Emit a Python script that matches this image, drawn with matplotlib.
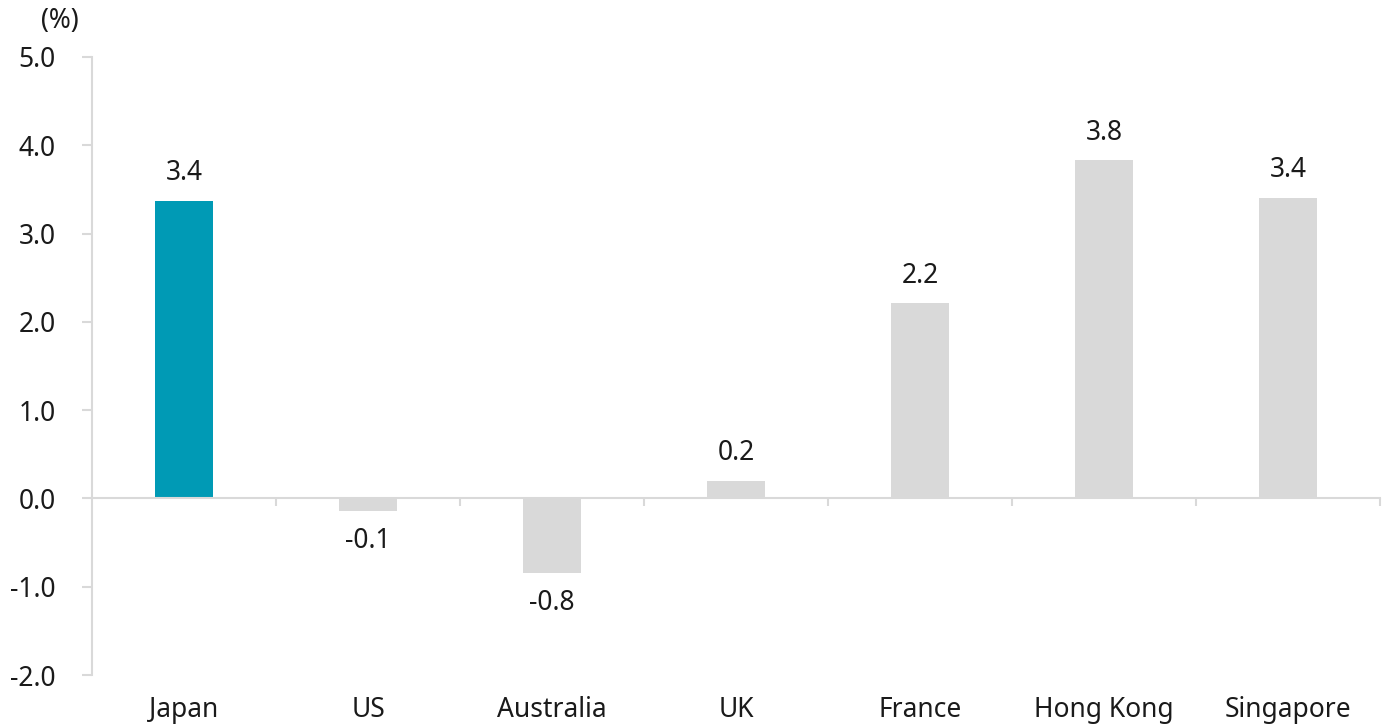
import numpy as np
import matplotlib.pyplot as plt

countries = ['Japan', 'US', 'Australia', 'UK', 'France', 'Hong Kong', 'Singapore']
values = [3.37, -0.14, -0.84, 0.2, 2.21, 3.83, 3.40]
bar_colors = ['#009ab5'] + ['#d9d9d9'] * 6

plt.rcParams['font.family'] = ['Noto Sans', 'DejaVu Sans']
txt = '#1a1a1a'
grid = '#d9d9d9'
fs = 19

fig = plt.figure(figsize=(13.86, 7.26), dpi=100)
ax = fig.add_axes([0.0664, 0.0702, 0.9293, 0.8513])

x = np.arange(len(countries))
ax.bar(x, values, width=0.315, color=bar_colors, zorder=2)

for xi, v in zip(x, values):
    off = 20 if v >= 0 else -22
    ax.annotate(f'{v:.1f}', (xi, v), xytext=(0, off), textcoords='offset points',
                ha='center', va='center', fontsize=fs, color=txt)

ax.set_xlim(-0.5, len(countries) - 0.5)
ax.set_ylim(-2, 5)
ax.set_yticks(np.arange(-2, 6, 1.0))
ax.set_yticklabels([f'{t:.1f}' for t in np.arange(-2, 6, 1.0)])
ax.tick_params(axis='y', direction='out', length=7, width=1.5, color=grid,
               labelsize=fs, labelcolor=txt, pad=19)

for s in ['top', 'right']:
    ax.spines[s].set_visible(False)
ax.spines['left'].set_color(grid)
ax.spines['left'].set_linewidth(1.5)
ax.spines['bottom'].set_position(('data', 0))
ax.spines['bottom'].set_color(grid)
ax.spines['bottom'].set_linewidth(1.5)

# boundary ticks on the zero line
ax.set_xticks(x)
ax.set_xticklabels([])
ax.tick_params(axis='x', which='major', length=0)
ax.set_xticks(np.arange(0.5, len(countries) + 0.5, 1), minor=True)
ax.tick_params(axis='x', which='minor', direction='out', length=6, width=1.5, color=grid)

# category labels at the bottom of the plot
sec = ax.secondary_xaxis('bottom')
sec.set_xticks(x)
sec.set_xticklabels(countries)
sec.tick_params(length=0, labelsize=fs, labelcolor=txt, pad=15)
sec.spines['bottom'].set_visible(False)

fig.text(60 / 1386, 1 - 21 / 726, '(%)', ha='center', va='center', fontsize=fs, color=txt)

plt.savefig('out.png', dpi=100)
